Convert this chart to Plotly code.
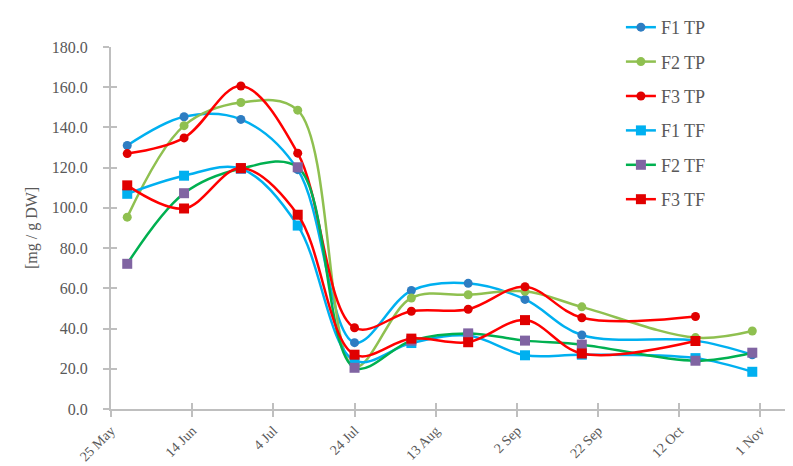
import plotly.graph_objects as go

dates = ["2019-05-29", "2019-06-12", "2019-06-26", "2019-07-10", "2019-07-24",
         "2019-08-07", "2019-08-21", "2019-09-04", "2019-09-18", "2019-10-16", "2019-10-30"]

F1_TP = [131.0, 145.3, 144.0, 119.0, 33.0, 58.9, 62.5, 54.5, 36.8, 34.0, 27.0]
F2_TP = [95.4, 140.9, 152.4, 148.6, 21.0, 55.2, 56.8, 58.5, 50.8, 35.5, 38.8]
F3_TP = [127.0, 134.8, 160.6, 127.2, 40.4, 48.6, 49.6, 60.8, 45.4, 46.0]
F1_TF = [107.0, 116.0, 119.5, 91.2, 24.0, 32.8, 36.5, 26.7, 27.0, 25.3, 18.5]
F2_TF = [72.2, 107.3, 119.5, 120.2, 20.5, 34.0, 37.6, 34.0, 32.0, 24.0, 28.0]
F3_TF = [111.2, 99.7, 119.8, 96.6, 27.0, 35.0, 33.2, 44.2, 27.6, 33.8]

series = [
    ("F1 TP", F1_TP, "#00B0F0", "#2E7DC2", "circle", 9),
    ("F2 TP", F2_TP, "#8FC050", "#8FC050", "circle", 9),
    ("F3 TP", F3_TP, "#FF0000", "#E00000", "circle", 9),
    ("F1 TF", F1_TF, "#00B0F0", "#00B0F0", "square", 10),
    ("F2 TF", F2_TF, "#00B050", "#8064A2", "square", 10),
    ("F3 TF", F3_TF, "#FF0000", "#E00000", "square", 10),
]

TXT = "#595959"
AX = "#BFBFBF"
FONT = "Liberation Serif"

fig = go.Figure()
for i, (name, vals, lc, mc, sym, ms) in enumerate(series):
    fig.add_trace(go.Scatter(
        x=dates[:len(vals)], y=vals, name=name, mode="lines+markers",
        line=dict(color=lc, width=2.5, shape="spline", smoothing=1.0),
        marker=dict(color=mc, symbol=sym, size=ms, line=dict(width=0)),
        legendgroup=f"g{i}",
    ))

# dummy trace for overlay axes (inside half of crossing ticks)
fig.add_trace(go.Scatter(x=[None], y=[None], xaxis="x2", yaxis="y2",
                         showlegend=False, hoverinfo="skip"))

xr = ["2019-05-25", "2019-11-11"]
common_x = dict(type="date", range=xr, tick0="2019-05-25", dtick=20 * 86400000)

fig.update_layout(
    width=793, height=466,
    margin=dict(l=103, r=0, t=39, b=65),
    paper_bgcolor="white", plot_bgcolor="white",
    font=dict(family=FONT, color=TXT, size=16),
    xaxis=dict(**common_x, tickformat="%-d %b", tickangle=-45,
               showgrid=False, zeroline=False,
               showline=True, linecolor=AX, linewidth=2,
               ticks="outside", ticklen=6, tickwidth=2, tickcolor=AX,
               tickfont=dict(family=FONT, size=14, color=TXT)),
    yaxis=dict(range=[0, 180], dtick=20, tickformat=".1f",
               showgrid=False, zeroline=False,
               showline=True, linecolor=AX, linewidth=2,
               ticks="outside", ticklen=6, tickwidth=2, tickcolor=AX,
               ticklabelstandoff=12,
               tickfont=dict(family=FONT, size=16, color=TXT),
               title=dict(text="[mg / g DW]", standoff=10,
                          font=dict(family=FONT, size=16, color=TXT))),
    xaxis2=dict(**common_x, overlaying="x", anchor="y2", showticklabels=False,
                showgrid=False, zeroline=False, showline=False,
                ticks="inside", ticklen=6, tickwidth=2, tickcolor=AX),
    yaxis2=dict(range=[0, 180], dtick=20, overlaying="y", anchor="x2", side="left",
                showticklabels=False, showgrid=False, zeroline=False, showline=False,
                ticks="inside", ticklen=6, tickwidth=2, tickcolor=AX),
    legend=dict(x=0.739, y=1.105, xanchor="left", yanchor="top",
                font=dict(family=FONT, size=18, color=TXT),
                tracegroupgap=8, traceorder="grouped",
                bgcolor="rgba(0,0,0,0)"),
    showlegend=True,
)

fig.write_html("out.html")
